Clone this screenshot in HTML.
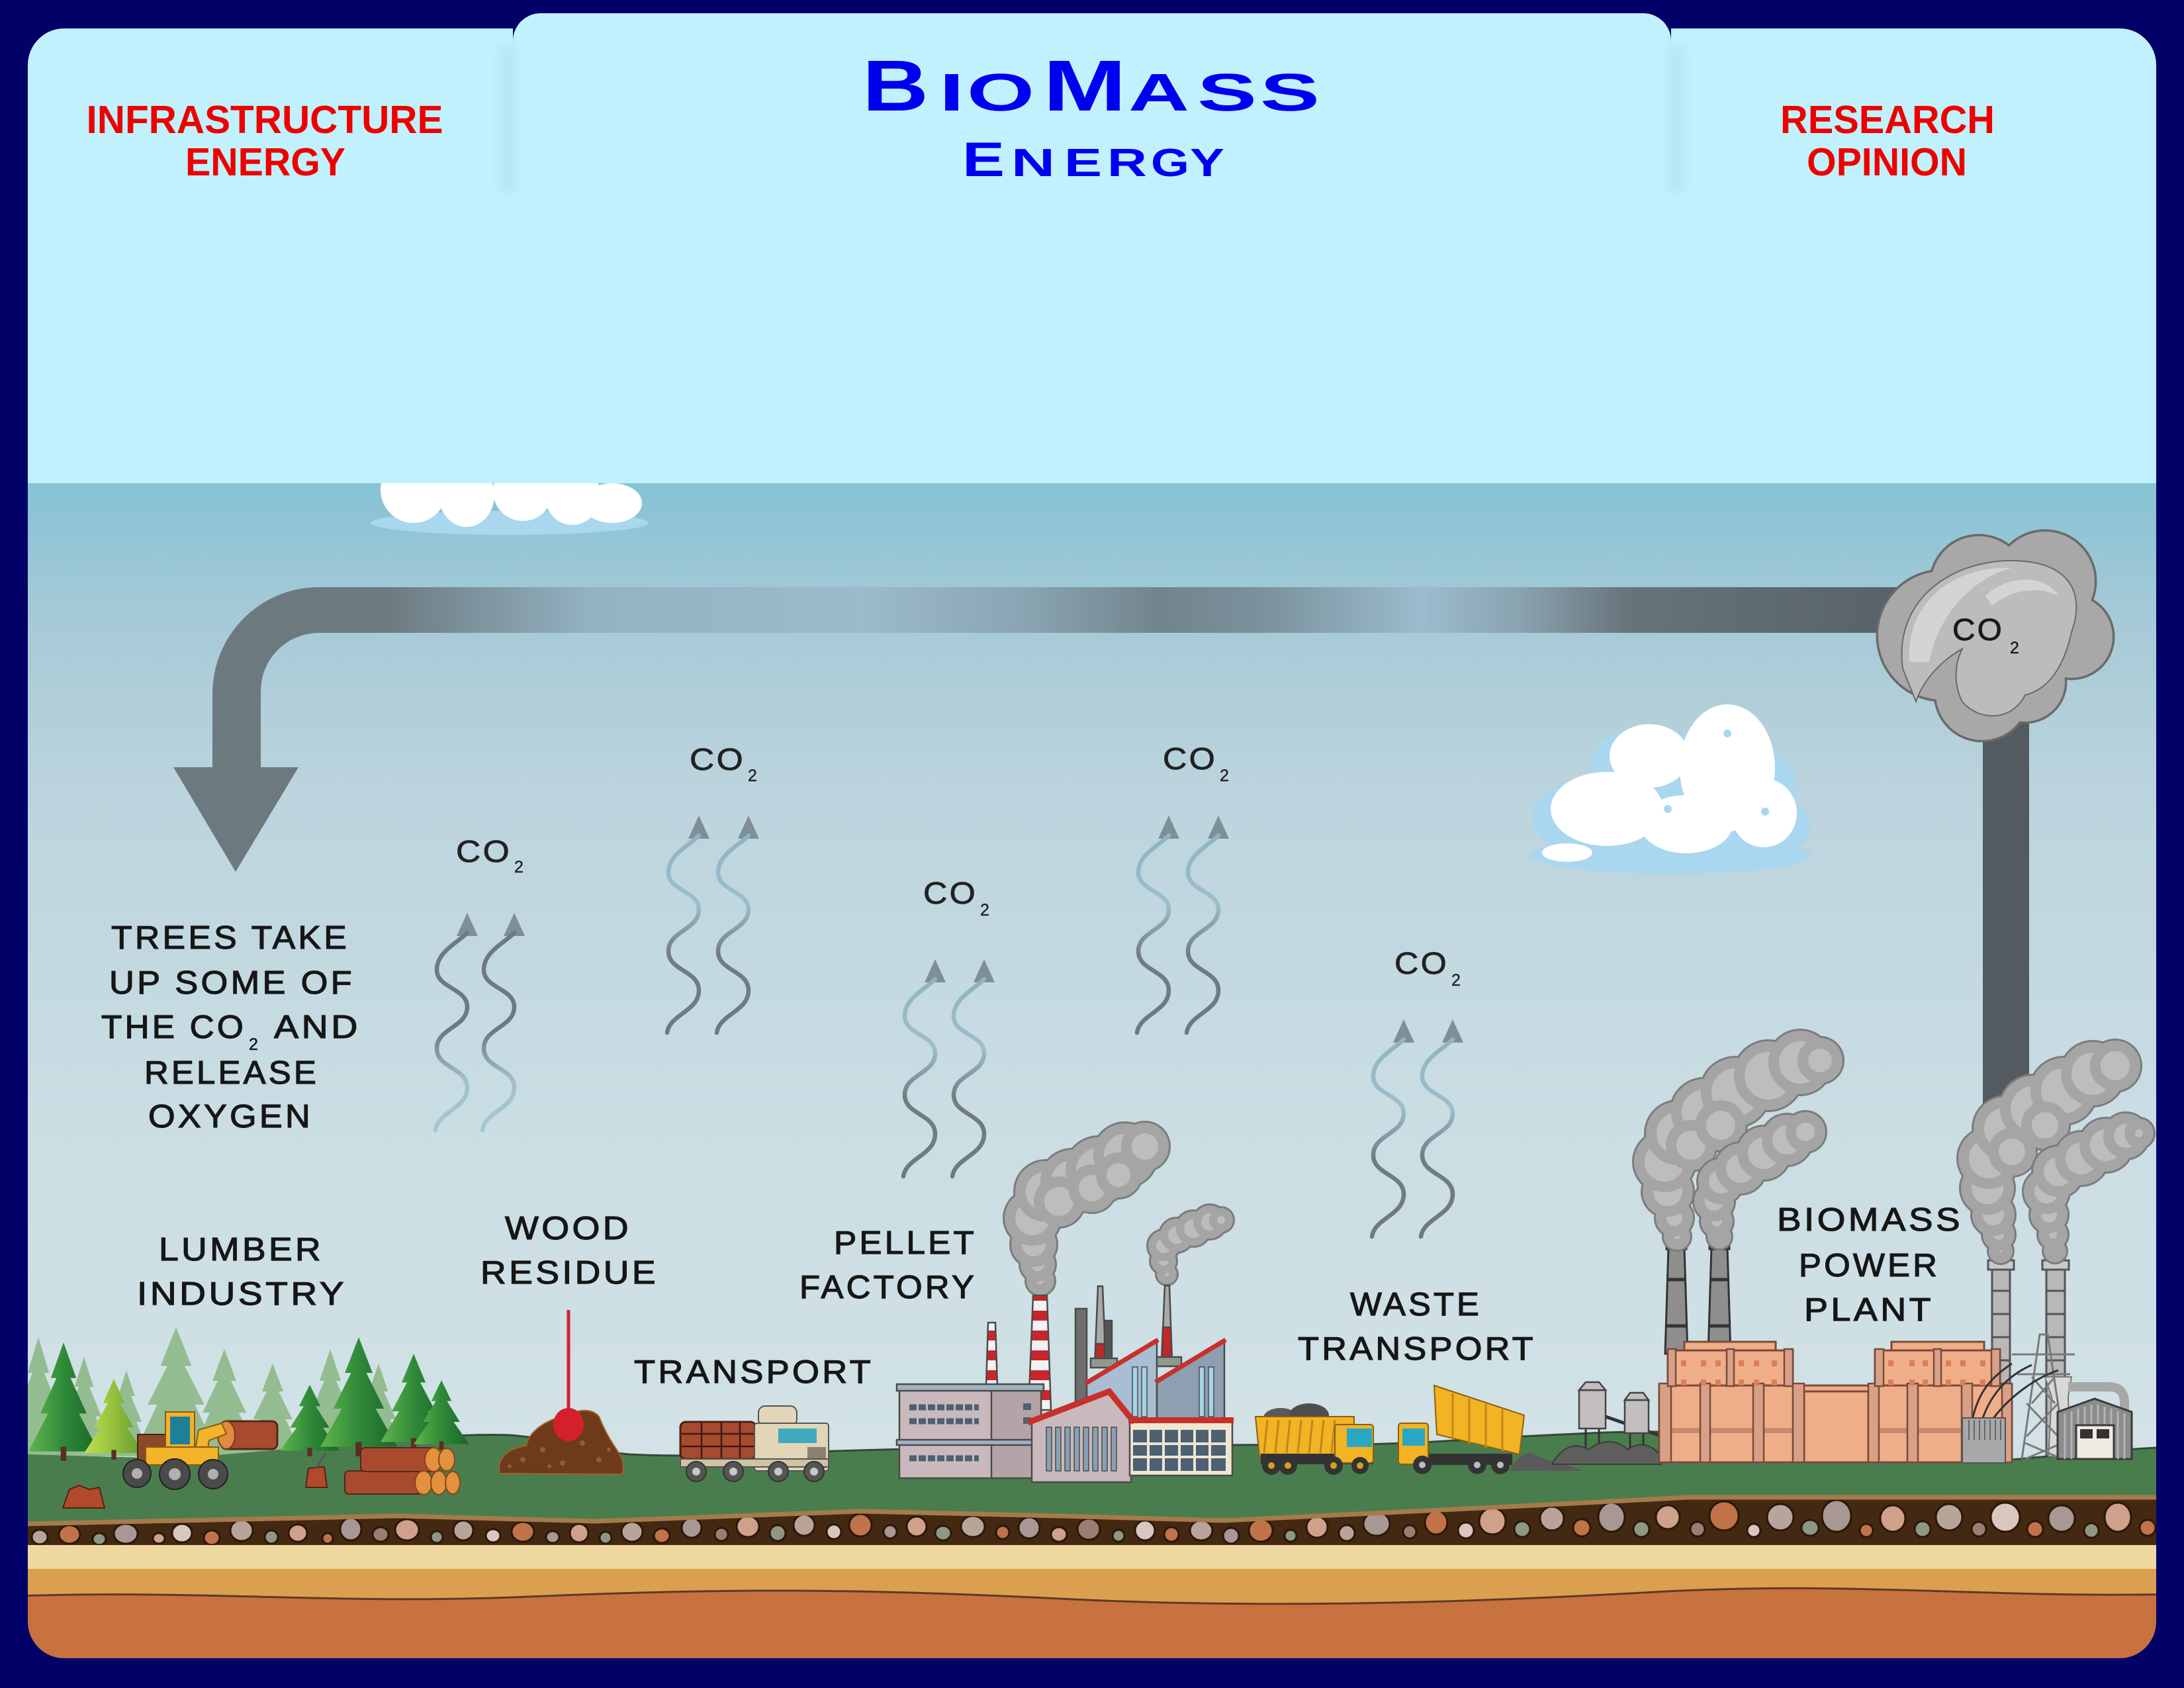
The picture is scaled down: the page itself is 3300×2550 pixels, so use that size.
<!DOCTYPE html>
<html><head><meta charset="utf-8">
<style>html,body{margin:0;padding:0;background:#020167;}svg{display:block}</style>
</head><body>
<svg width="3300" height="2550" viewBox="0 0 3300 2550" xmlns="http://www.w3.org/2000/svg">
<defs>
<clipPath id="panel"><path d="M42 2450 L42 98 A55 55 0 0 1 97 43 L775 43 L775 62 A42 42 0 0 1 817 20 L2483 20 A42 42 0 0 1 2525 62 L2525 43 L3203 43 A55 55 0 0 1 3258 98 L3258 2450 A55 55 0 0 1 3203 2505 L97 2505 A55 55 0 0 1 42 2450 Z"/></clipPath>
<linearGradient id="sky" x1="0" y1="730" x2="0" y2="2300" gradientUnits="userSpaceOnUse">
<stop offset="0" stop-color="#85c3d5"/><stop offset="0.12" stop-color="#a4c9d6"/><stop offset="0.3" stop-color="#bcd4dd"/><stop offset="0.6" stop-color="#c9dde3"/><stop offset="1" stop-color="#d4e3e7"/>
</linearGradient>
<linearGradient id="arr" x1="300" y1="0" x2="2900" y2="0" gradientUnits="userSpaceOnUse">
<stop offset="0" stop-color="#6c7a80"/><stop offset="0.108" stop-color="#6c7a80"/><stop offset="0.229" stop-color="#93b2c2"/><stop offset="0.385" stop-color="#9bbbcb"/><stop offset="0.481" stop-color="#8aa4b2"/><stop offset="0.558" stop-color="#72858e"/><stop offset="0.615" stop-color="#7a909b"/><stop offset="0.712" stop-color="#9bbccd"/><stop offset="0.769" stop-color="#8aa2b0"/><stop offset="0.831" stop-color="#67747b"/><stop offset="1" stop-color="#566068"/>
</linearGradient>
<linearGradient id="gd" x1="0" y1="0" x2="0" y2="1"><stop offset="0" stop-color="#6e7a80"/><stop offset="0.5" stop-color="#6e7a80"/><stop offset="0.75" stop-color="#9fc0cc"/><stop offset="1" stop-color="#a6c6d2"/></linearGradient>
<linearGradient id="gl" x1="0" y1="0" x2="0" y2="1"><stop offset="0" stop-color="#8fb3c2"/><stop offset="0.35" stop-color="#9cbfcc"/><stop offset="0.6" stop-color="#717d83"/><stop offset="1" stop-color="#6e7a80"/></linearGradient>
<linearGradient id="pine" x1="0" y1="0" x2="1" y2="0"><stop offset="0" stop-color="#62b54d"/><stop offset="0.5" stop-color="#2f8a38"/><stop offset="1" stop-color="#1b6528"/></linearGradient>
<linearGradient id="ypine" x1="0" y1="0" x2="1" y2="0"><stop offset="0" stop-color="#c4de52"/><stop offset="0.5" stop-color="#93c03c"/><stop offset="1" stop-color="#5f9a30"/></linearGradient>
<pattern id="stripes" patternUnits="userSpaceOnUse" width="40" height="30"><rect width="40" height="15" fill="#c8262a"/><rect y="15" width="40" height="15" fill="#f2f2f2"/></pattern>
<filter id="blur" x="-3" y="-1" width="7" height="3"><feGaussianBlur stdDeviation="10"/></filter>
<g id="tree"><polygon points="0,0 18,30 10,30 33,60 22,60 50,92 -50,92 -22,60 -33,60 -10,30 -18,30"/><rect x="-4" y="88" width="8" height="12" fill="#5a2f22"/></g>
<g id="btree"><polygon points="0,0 18,30 10,30 33,60 22,60 50,100 -50,100 -22,60 -33,60 -10,30 -18,30"/></g>
<g id="wv"><path d="M0,30 C-12,44 -46,58 -46,86 C-46,114 0,114 0,142 C0,173 -46,174 -46,205 C-46,235 0,234 0,264 C0,296 -44,300 -48,328" fill="none" stroke-width="6.5" stroke-linecap="round"/></g>
<polygon id="ah" points="0,0 16,35 -16,35"/>
<g id="sp1"><circle cx="1572" cy="1935" r="13"/><circle cx="1568" cy="1910" r="18"/><circle cx="1562" cy="1880" r="26"/><circle cx="1560" cy="1840" r="34"/><circle cx="1580" cy="1800" r="38"/><circle cx="1620" cy="1785" r="40"/><circle cx="1660" cy="1768" r="42"/><circle cx="1700" cy="1745" r="40"/><circle cx="1730" cy="1732" r="28"/><circle cx="1600" cy="1815" r="30"/><circle cx="1650" cy="1795" r="28"/><circle cx="1690" cy="1775" r="26"/></g>
<g id="sp2"><circle cx="1763" cy="1925" r="9"/><circle cx="1758" cy="1905" r="13"/><circle cx="1758" cy="1882" r="17"/><circle cx="1778" cy="1866" r="19"/><circle cx="1803" cy="1856" r="20"/><circle cx="1828" cy="1846" r="19"/><circle cx="1845" cy="1843" r="12"/></g>
<g id="sp3"><circle cx="2534" cy="1868" r="12"/><circle cx="2530" cy="1840" r="20"/><circle cx="2520" cy="1800" r="30"/><circle cx="2515" cy="1755" r="38"/><circle cx="2535" cy="1712" r="40"/><circle cx="2575" cy="1680" r="42"/><circle cx="2622" cy="1650" r="44"/><circle cx="2672" cy="1625" r="44"/><circle cx="2720" cy="1605" r="40"/><circle cx="2750" cy="1602" r="26"/><circle cx="2555" cy="1730" r="30"/><circle cx="2600" cy="1700" r="30"/></g>
<g id="sp4"><circle cx="2598" cy="1868" r="10"/><circle cx="2594" cy="1845" r="16"/><circle cx="2590" cy="1815" r="22"/><circle cx="2600" cy="1785" r="26"/><circle cx="2630" cy="1765" r="30"/><circle cx="2665" cy="1742" r="32"/><circle cx="2700" cy="1722" r="30"/><circle cx="2728" cy="1710" r="22"/></g>
<g id="sp5"><circle cx="3023" cy="1890" r="10"/><circle cx="3020" cy="1865" r="16"/><circle cx="3012" cy="1835" r="24"/><circle cx="3003" cy="1795" r="32"/><circle cx="3005" cy="1750" r="38"/><circle cx="3030" cy="1705" r="40"/><circle cx="3072" cy="1675" r="42"/><circle cx="3118" cy="1648" r="42"/><circle cx="3162" cy="1622" r="40"/><circle cx="3196" cy="1610" r="30"/><circle cx="3040" cy="1740" r="28"/><circle cx="3090" cy="1700" r="28"/></g>
<g id="sp6"><circle cx="3105" cy="1890" r="9"/><circle cx="3102" cy="1865" r="14"/><circle cx="3096" cy="1835" r="20"/><circle cx="3092" cy="1800" r="26"/><circle cx="3110" cy="1770" r="30"/><circle cx="3145" cy="1750" r="32"/><circle cx="3182" cy="1730" r="32"/><circle cx="3212" cy="1716" r="26"/><circle cx="3232" cy="1712" r="14"/></g>
<g id="cc"><circle cx="2935" cy="960" r="97"/><circle cx="2990" cy="882" r="72"/><circle cx="3090" cy="878" r="75"/><circle cx="3130" cy="962" r="62"/><circle cx="3060" cy="1030" r="60"/><circle cx="2995" cy="1048" r="70"/></g>
</defs>

<rect width="3300" height="2550" fill="#020167"/>

<g clip-path="url(#panel)">
<rect x="0" y="700" width="3300" height="1650" fill="url(#sky)"/>

<ellipse cx="770" cy="790" rx="210" ry="18" fill="#a9d7ee"/>
<g fill="#ffffff">
<ellipse cx="625" cy="740" rx="50" ry="50"/>
<ellipse cx="705" cy="748" rx="42" ry="48"/>
<ellipse cx="790" cy="742" rx="45" ry="45"/>
<ellipse cx="865" cy="748" rx="42" ry="45"/>
<ellipse cx="925" cy="760" rx="45" ry="30"/>
</g>

<rect x="0" y="0" width="3300" height="730" fill="#c1f1fd"/>
<rect x="760" y="70" width="14" height="220" fill="#000" opacity="0.09" filter="url(#blur)"/>
<rect x="2526" y="70" width="14" height="220" fill="#000" opacity="0.09" filter="url(#blur)"/>

<path d="M2960 887 L482 887 A161 161 0 0 0 321 1048 L321 1159 L262 1159 L356 1317 L451 1159 L394 1159 L394 1044 A88 88 0 0 1 482 956 L2960 956 Z" fill="url(#arr)"/>
<rect x="2996" y="1060" width="70" height="650" fill="#535b60"/>

<use href="#cc" fill="#a8a8a8" stroke="#6a6a6a" stroke-width="7"/>
<use href="#cc" fill="#a8a8a8"/>
<path d="M2875 1010 C2860 900 2960 838 3060 848 C3130 855 3150 900 3130 955 C3120 1000 3100 1040 3060 1050 C3040 1090 2990 1090 2965 1060 C2950 1030 2955 1000 2965 980 C2930 1000 2905 1030 2895 1060 Z" fill="#bcbcbc" stroke="#6a6a6a" stroke-width="2"/>
<path d="M2885 1000 C2880 910 2950 855 3040 858 C2990 870 2930 920 2915 1000 Z" fill="#d4d4d4"/>
<path d="M3000 900 C3030 870 3090 865 3110 900 C3080 885 3040 890 3010 915 Z" fill="#d4d4d4"/>

<g fill="#a9d7ef">
<ellipse cx="2525" cy="1292" rx="212" ry="28"/>
<ellipse cx="2415" cy="1235" rx="100" ry="62"/>
<ellipse cx="2595" cy="1195" rx="120" ry="95"/>
<ellipse cx="2475" cy="1155" rx="70" ry="55"/>
<ellipse cx="2680" cy="1250" rx="55" ry="45"/>
</g>
<g fill="#ffffff">
<ellipse cx="2428" cy="1222" rx="85" ry="56"/>
<ellipse cx="2492" cy="1142" rx="60" ry="48"/>
<ellipse cx="2610" cy="1160" rx="72" ry="96"/>
<ellipse cx="2665" cy="1228" rx="50" ry="52"/>
<ellipse cx="2548" cy="1245" rx="70" ry="44"/>
<ellipse cx="2368" cy="1288" rx="38" ry="14"/>
</g>
<g fill="#a9d7ef"><circle cx="2610" cy="1108" r="6"/><circle cx="2520" cy="1222" r="6"/><circle cx="2667" cy="1226" r="6"/><circle cx="2500" cy="1297" r="5"/></g>

<g fill="#7e8f97">
<use href="#ah" transform="translate(706,1379)"/><use href="#ah" transform="translate(777,1379)"/>
<use href="#ah" transform="translate(1056,1232)"/><use href="#ah" transform="translate(1131,1232)"/>
<use href="#ah" transform="translate(1413,1449)"/><use href="#ah" transform="translate(1487,1449)"/>
<use href="#ah" transform="translate(1766,1232)"/><use href="#ah" transform="translate(1841,1232)"/>
<use href="#ah" transform="translate(2121,1540)"/><use href="#ah" transform="translate(2195,1540)"/>
</g>
<use href="#wv" transform="translate(706,1379)" stroke="url(#gd)"/><use href="#wv" transform="translate(777,1379)" stroke="url(#gd)"/>
<use href="#wv" transform="translate(1056,1232)" stroke="url(#gl)"/><use href="#wv" transform="translate(1131,1232)" stroke="url(#gl)"/>
<use href="#wv" transform="translate(1413,1449)" stroke="url(#gl)"/><use href="#wv" transform="translate(1487,1449)" stroke="url(#gl)"/>
<use href="#wv" transform="translate(1766,1232)" stroke="url(#gl)"/><use href="#wv" transform="translate(1841,1232)" stroke="url(#gl)"/>
<use href="#wv" transform="translate(2121,1540)" stroke="url(#gl)"/><use href="#wv" transform="translate(2195,1540)" stroke="url(#gl)"/>

<g fill="#93bd91">
<use href="#btree" transform="translate(58,2020) scale(0.9,1.8)"/>
<use href="#btree" transform="translate(127,2050) scale(0.8,1.5)"/>
<use href="#btree" transform="translate(191,2070) scale(0.7,1.3)"/>
<use href="#btree" transform="translate(266,2005) scale(1.3,1.95)"/>
<use href="#btree" transform="translate(339,2038) scale(1.0,1.6)"/>
<use href="#btree" transform="translate(412,2060) scale(0.9,1.4)"/>
<use href="#btree" transform="translate(499,2038) scale(0.9,1.6)"/>
<use href="#btree" transform="translate(572,2060) scale(0.8,1.4)"/>
</g>

<g stroke="#333" stroke-width="3">
<polygon points="2521,1884 2545,1884 2550,2045 2516,2045" fill="#8e8e8e"/>
<polygon points="2586,1884 2610,1884 2615,2045 2581,2045" fill="#8e8e8e"/>
<rect x="2518" y="1878" width="30" height="9" fill="#777"/>
<rect x="2583" y="1878" width="30" height="9" fill="#777"/>
<line x1="2519" y1="1933" x2="2547" y2="1933" stroke-width="5"/><line x1="2584" y1="1933" x2="2612" y2="1933" stroke-width="5"/>
<line x1="2518" y1="2003" x2="2549" y2="2003" stroke-width="5"/><line x1="2583" y1="2003" x2="2614" y2="2003" stroke-width="5"/>
</g>
<g stroke="#555" stroke-width="3" fill="#b8b8b8">
<rect x="3010" y="1916" width="27" height="290"/>
<rect x="3092" y="1916" width="28" height="290"/>
<rect x="3004" y="1904" width="39" height="14" fill="#c9c9c9"/>
<rect x="3086" y="1904" width="40" height="14" fill="#c9c9c9"/>
<path d="M3010 1950 H3037 M3010 1985 H3037 M3010 2020 H3037 M3010 2055 H3037 M3010 2090 H3037 M3092 1950 H3120 M3092 1985 H3120 M3092 2020 H3120 M3092 2055 H3120 M3092 2090 H3120" fill="none"/>
</g>

<use href="#sp1" fill="#a5a5a5" stroke="#7c7c7c" stroke-width="22"/><use href="#sp1" fill="#bdbdbd" stroke="#a5a5a5" stroke-width="16"/>
<use href="#sp2" fill="#a5a5a5" stroke="#7c7c7c" stroke-width="18"/><use href="#sp2" fill="#bdbdbd" stroke="#a5a5a5" stroke-width="12"/>
<use href="#sp3" fill="#a5a5a5" stroke="#7c7c7c" stroke-width="22"/><use href="#sp3" fill="#bdbdbd" stroke="#a5a5a5" stroke-width="16"/>
<use href="#sp4" fill="#a5a5a5" stroke="#7c7c7c" stroke-width="22"/><use href="#sp4" fill="#bdbdbd" stroke="#a5a5a5" stroke-width="16"/>
<use href="#sp5" fill="#a5a5a5" stroke="#7c7c7c" stroke-width="22"/><use href="#sp5" fill="#bdbdbd" stroke="#a5a5a5" stroke-width="16"/>
<use href="#sp6" fill="#a5a5a5" stroke="#7c7c7c" stroke-width="22"/><use href="#sp6" fill="#bdbdbd" stroke="#a5a5a5" stroke-width="16"/>

<rect x="0" y="2250" width="3300" height="100" fill="#432812"/>
<g stroke="#2a180a" stroke-width="3">
<ellipse cx="60" cy="2322" rx="12" ry="11" fill="#b9a49c"/><ellipse cx="105" cy="2318" rx="16" ry="14" fill="#c27248"/><ellipse cx="150" cy="2325" rx="10" ry="9" fill="#8e9784"/><ellipse cx="190" cy="2317" rx="18" ry="15" fill="#a89792"/><ellipse cx="240" cy="2324" rx="9" ry="8" fill="#cfa18a"/><ellipse cx="275" cy="2316" rx="15" ry="14" fill="#d9c7bf"/><ellipse cx="320" cy="2323" rx="12" ry="11" fill="#c27248"/><ellipse cx="365" cy="2312" rx="17" ry="16" fill="#b9a49c"/><ellipse cx="410" cy="2322" rx="10" ry="10" fill="#8e9784"/><ellipse cx="450" cy="2316" rx="14" ry="13" fill="#cfa18a"/><ellipse cx="495" cy="2324" rx="8" ry="8" fill="#c27248"/><ellipse cx="530" cy="2310" rx="16" ry="17" fill="#a89792"/><ellipse cx="575" cy="2318" rx="12" ry="11" fill="#9a7e74"/><ellipse cx="615" cy="2311" rx="18" ry="16" fill="#cfa18a"/><ellipse cx="660" cy="2322" rx="9" ry="9" fill="#8e9784"/><ellipse cx="700" cy="2312" rx="15" ry="15" fill="#b9a49c"/><ellipse cx="745" cy="2320" rx="11" ry="10" fill="#d9c7bf"/><ellipse cx="790" cy="2314" rx="17" ry="15" fill="#c27248"/><ellipse cx="835" cy="2322" rx="10" ry="9" fill="#a89792"/><ellipse cx="875" cy="2316" rx="14" ry="14" fill="#cfa18a"/><ellipse cx="915" cy="2323" rx="9" ry="9" fill="#8e9784"/><ellipse cx="955" cy="2314" rx="16" ry="15" fill="#b9a49c"/><ellipse cx="1000" cy="2320" rx="12" ry="11" fill="#c27248"/><ellipse cx="1045" cy="2308" rx="15" ry="15" fill="#a89792"/><ellipse cx="1090" cy="2318" rx="10" ry="10" fill="#9a7e74"/><ellipse cx="1130" cy="2306" rx="17" ry="16" fill="#cfa18a"/><ellipse cx="1175" cy="2316" rx="12" ry="12" fill="#8e9784"/><ellipse cx="1215" cy="2304" rx="16" ry="16" fill="#b9a49c"/><ellipse cx="1260" cy="2314" rx="11" ry="11" fill="#d9c7bf"/><ellipse cx="1300" cy="2304" rx="17" ry="17" fill="#c27248"/><ellipse cx="1345" cy="2314" rx="10" ry="10" fill="#a89792"/><ellipse cx="1385" cy="2306" rx="15" ry="15" fill="#cfa18a"/><ellipse cx="1425" cy="2316" rx="12" ry="11" fill="#8e9784"/><ellipse cx="1470" cy="2306" rx="18" ry="16" fill="#b9a49c"/><ellipse cx="1515" cy="2315" rx="10" ry="10" fill="#c27248"/><ellipse cx="1555" cy="2308" rx="16" ry="16" fill="#a89792"/><ellipse cx="1600" cy="2318" rx="12" ry="11" fill="#cfa18a"/><ellipse cx="1645" cy="2310" rx="17" ry="16" fill="#9a7e74"/><ellipse cx="1690" cy="2320" rx="9" ry="9" fill="#8e9784"/><ellipse cx="1730" cy="2312" rx="15" ry="15" fill="#d9c7bf"/><ellipse cx="1770" cy="2318" rx="11" ry="11" fill="#c27248"/><ellipse cx="1815" cy="2312" rx="17" ry="15" fill="#b9a49c"/><ellipse cx="1860" cy="2320" rx="12" ry="12" fill="#a89792"/><ellipse cx="1905" cy="2312" rx="18" ry="17" fill="#c27248"/><ellipse cx="1950" cy="2320" rx="9" ry="9" fill="#8e9784"/><ellipse cx="1990" cy="2307" rx="16" ry="16" fill="#cfa18a"/><ellipse cx="2035" cy="2316" rx="12" ry="12" fill="#b9a49c"/><ellipse cx="2080" cy="2302" rx="20" ry="18" fill="#a89792"/><ellipse cx="2130" cy="2314" rx="10" ry="10" fill="#9a7e74"/><ellipse cx="2170" cy="2300" rx="17" ry="18" fill="#c27248"/><ellipse cx="2215" cy="2312" rx="12" ry="12" fill="#d9c7bf"/><ellipse cx="2255" cy="2298" rx="20" ry="20" fill="#cfa18a"/><ellipse cx="2300" cy="2310" rx="12" ry="12" fill="#8e9784"/><ellipse cx="2345" cy="2294" rx="18" ry="18" fill="#b9a49c"/><ellipse cx="2390" cy="2308" rx="13" ry="13" fill="#c27248"/><ellipse cx="2435" cy="2292" rx="20" ry="22" fill="#a89792"/><ellipse cx="2480" cy="2310" rx="12" ry="12" fill="#8e9784"/><ellipse cx="2520" cy="2292" rx="18" ry="18" fill="#cfa18a"/><ellipse cx="2565" cy="2310" rx="11" ry="11" fill="#9a7e74"/><ellipse cx="2605" cy="2290" rx="22" ry="22" fill="#c27248"/><ellipse cx="2650" cy="2312" rx="10" ry="10" fill="#d9c7bf"/><ellipse cx="2690" cy="2292" rx="20" ry="20" fill="#b9a49c"/><ellipse cx="2735" cy="2308" rx="13" ry="12" fill="#8e9784"/><ellipse cx="2775" cy="2290" rx="22" ry="24" fill="#a89792"/><ellipse cx="2820" cy="2312" rx="10" ry="10" fill="#c27248"/><ellipse cx="2860" cy="2294" rx="19" ry="20" fill="#cfa18a"/><ellipse cx="2905" cy="2310" rx="12" ry="12" fill="#8e9784"/><ellipse cx="2945" cy="2292" rx="20" ry="20" fill="#b9a49c"/><ellipse cx="2990" cy="2310" rx="11" ry="11" fill="#9a7e74"/><ellipse cx="3030" cy="2292" rx="22" ry="22" fill="#d9c7bf"/><ellipse cx="3075" cy="2310" rx="12" ry="12" fill="#c27248"/><ellipse cx="3115" cy="2294" rx="20" ry="20" fill="#a89792"/><ellipse cx="3160" cy="2312" rx="11" ry="11" fill="#8e9784"/><ellipse cx="3200" cy="2292" rx="20" ry="22" fill="#cfa18a"/><ellipse cx="3245" cy="2308" rx="12" ry="12" fill="#c27248"/>
</g>
<rect x="0" y="2334" width="3300" height="40" fill="#efd8a0"/>
<rect x="0" y="2370" width="3300" height="70" fill="#daa04f"/>
<path d="M0 2412 C300 2400 500 2425 800 2412 S1300 2400 1600 2415 S2200 2422 2500 2405 S3000 2415 3300 2408 L3300 2560 L0 2560 Z" fill="#c8723f" stroke="#5e3a28" stroke-width="3"/>
<path d="M0 2200 L42 2197 C150 2200 250 2205 330 2198 C420 2190 480 2185 560 2178 C650 2170 720 2166 770 2168 C830 2172 880 2190 950 2197 C1050 2202 1150 2196 1260 2192 C1400 2188 1500 2186 1600 2186 C1750 2184 1850 2182 1950 2183 C2100 2184 2200 2176 2300 2170 C2400 2165 2450 2162 2506 2163 C2700 2170 2900 2200 3040 2205 C3150 2195 3220 2188 3300 2185 L3300 2262 L2550 2262 L2300 2275 L1850 2297 L1600 2290 L1300 2283 L900 2298 L600 2290 L42 2302 L0 2303 Z" fill="#4a7d4d"/>
<path d="M560 2178 C650 2170 720 2166 770 2168 C830 2172 880 2190 950 2197 C1050 2202 1150 2196 1260 2192 C1400 2188 1500 2186 1600 2186 C1750 2184 1850 2182 1950 2183 C2100 2184 2200 2176 2300 2170 C2400 2165 2450 2162 2506 2163 M3040 2205 C3150 2195 3220 2188 3300 2185" fill="none" stroke="#37463a" stroke-width="3"/>
<polyline points="0,2303 42,2302 600,2290 900,2298 1300,2283 1600,2290 1850,2297 2300,2275 2550,2262 3300,2262" fill="none" stroke="#a57a4c" stroke-width="7"/>

<g fill="url(#pine)">
<use href="#tree" transform="translate(96,2028) scale(1.06,1.79)"/>
<use href="#tree" transform="translate(468,2092) scale(0.9,1.08)"/>
<use href="#tree" transform="translate(542,2020) scale(1.16,1.8)"/>
<use href="#tree" transform="translate(625,2045) scale(1.0,1.45)"/>
<use href="#tree" transform="translate(667,2085) scale(0.84,1.05)"/>
</g>
<use href="#tree" fill="url(#ypine)" transform="translate(172,2083) scale(0.9,1.22)"/>

<polygon points="95,2278 105,2250 120,2244 135,2250 150,2247 158,2278" fill="#b04a2a" stroke="#5a2010" stroke-width="2"/>
<polygon points="462,2247 466,2218 490,2216 494,2247" fill="#b04a2a" stroke="#5a2010" stroke-width="2"/>
<line x1="478" y1="2218" x2="492" y2="2195" stroke="#555" stroke-width="3"/>

<rect x="334" y="2147" width="85" height="42" rx="8" fill="#a84a2e" stroke="#5a2418" stroke-width="3"/>
<ellipse cx="342" cy="2168" rx="13" ry="21" fill="#e08a40" stroke="#7a3a1a" stroke-width="2"/>
<polygon points="292,2208 300,2160 335,2150 342,2166 316,2176 310,2212" fill="#f3b32a" stroke="#8a5a10" stroke-width="2"/>
<rect x="208" y="2167" width="46" height="45" fill="#8a4a2a" stroke="#4a2010" stroke-width="2"/>
<rect x="250" y="2133" width="44" height="60" fill="#f3b32a" stroke="#8a5a10" stroke-width="2"/>
<rect x="257" y="2140" width="30" height="42" fill="#1e7f9a"/>
<rect x="220" y="2186" width="110" height="27" fill="#f3b32a" stroke="#8a5a10" stroke-width="2"/>
<g fill="#4a4a4a" stroke="#222" stroke-width="2"><circle cx="207" cy="2226" r="21"/><circle cx="264" cy="2227" r="23"/><circle cx="322" cy="2227" r="22"/></g>
<g fill="#b0b0b0"><circle cx="207" cy="2226" r="8"/><circle cx="264" cy="2227" r="9"/><circle cx="322" cy="2227" r="8"/></g>

<g fill="#a84a2e" stroke="#5a2418" stroke-width="2">
<rect x="521" y="2222" width="125" height="35" rx="6"/>
<rect x="545" y="2187" width="112" height="36" rx="6"/>
</g>
<g fill="#e3913f" stroke="#8a4418" stroke-width="2">
<ellipse cx="655" cy="2205" rx="13" ry="18"/><ellipse cx="675" cy="2205" rx="12" ry="17"/>
<ellipse cx="640" cy="2240" rx="13" ry="18"/><ellipse cx="663" cy="2240" rx="12" ry="18"/><ellipse cx="684" cy="2240" rx="11" ry="17"/>
</g>

<path d="M755 2226 C750 2200 770 2188 795 2184 C800 2160 830 2142 860 2138 C875 2128 895 2128 905 2140 C915 2165 925 2180 935 2195 C945 2210 942 2226 938 2227 Z" fill="#6e3a1c" stroke="#a0602c" stroke-width="2"/>
<g fill="#9a5a2e"><circle cx="790" cy="2205" r="4"/><circle cx="820" cy="2190" r="4"/><circle cx="850" cy="2210" r="4"/><circle cx="880" cy="2180" r="4"/><circle cx="905" cy="2205" r="4"/><circle cx="870" cy="2160" r="3"/><circle cx="830" cy="2215" r="3"/><circle cx="920" cy="2190" r="3"/><circle cx="770" cy="2215" r="3"/></g>
<line x1="859" y1="1979" x2="859" y2="2140" stroke="#d4202a" stroke-width="5"/>
<ellipse cx="859" cy="2152" rx="23" ry="25" fill="#d4202a"/>

<rect x="1028" y="2148" width="114" height="56" rx="8" fill="#a84a2e" stroke="#4a2010" stroke-width="3"/>
<path d="M1030 2166 H1140 M1030 2185 H1140 M1060 2148 V2204 M1090 2148 V2204 M1118 2148 V2204" stroke="#3a1a10" stroke-width="2.5" fill="none"/>
<rect x="1146" y="2124" width="58" height="30" rx="10" fill="#e2d5b8" stroke="#555" stroke-width="2"/>
<rect x="1140" y="2150" width="112" height="72" rx="4" fill="#e2d5b8" stroke="#555" stroke-width="2"/>
<rect x="1176" y="2158" width="58" height="22" fill="#3fa9c0"/>
<rect x="1220" y="2186" width="28" height="32" fill="#8c8170"/>
<rect x="1028" y="2204" width="224" height="12" fill="#d0c2a4" stroke="#555" stroke-width="2"/>
<g fill="#555" stroke="#333" stroke-width="2"><circle cx="1052" cy="2223" r="15"/><circle cx="1108" cy="2223" r="15"/><circle cx="1176" cy="2223" r="15"/><circle cx="1230" cy="2223" r="15"/></g>
<g fill="#c8c8c8"><circle cx="1052" cy="2223" r="6"/><circle cx="1108" cy="2223" r="6"/><circle cx="1176" cy="2223" r="6"/><circle cx="1230" cy="2223" r="6"/></g>

<g stroke="#4a4a4a" stroke-width="2.5">
<polygon points="1493,1998 1504,1998 1507,2095 1490,2095" fill="url(#stripes)"/>
<polygon points="1561,1957 1582,1957 1588,2130 1554,2130" fill="url(#stripes)"/>
<rect x="1625" y="1977" width="17" height="145" fill="#6e6e6e"/>
<polygon points="1659,1943 1666,1943 1671,2063 1654,2063" fill="#a9a9a9"/>
<polygon points="1656,2030 1669,2030 1671,2063 1654,2063" fill="#c0282a"/>
<rect x="1669" y="1995" width="11" height="70" fill="#555"/>
<polygon points="1760,1942 1767,1942 1771,2059 1755,2059" fill="#a9a9a9"/>
<polygon points="1757,2005 1769,2005 1771,2059 1755,2059" fill="#c0282a"/>
<rect x="1648" y="2052" width="40" height="14" fill="#8f9a8f"/>
<rect x="1745" y="2050" width="40" height="14" fill="#8f9a8f"/>
<polygon points="1642,2090 1748,2026 1748,2145 1642,2145" fill="#a9bed2"/>
<polygon points="1748,2086 1850,2026 1850,2145 1748,2145" fill="#8d9fb0"/>
<rect x="1359" y="2099" width="214" height="134" fill="#c9b9bd"/>
<rect x="1498" y="2099" width="75" height="134" fill="#b4a4a8"/>
<rect x="1355" y="2091" width="222" height="10" fill="#9fb3c4"/>
<rect x="1355" y="2175" width="222" height="8" fill="#9fb3c4"/>
<polygon points="1559,2145 1676,2104 1709,2145 1709,2239 1559,2239" fill="#c9b9bd"/>
<rect x="1707" y="2147" width="155" height="82" fill="#efe6d2"/>
</g>
<line x1="1640" y1="2090" x2="1750" y2="2024" stroke="#c8302a" stroke-width="7"/>
<line x1="1746" y1="2088" x2="1852" y2="2024" stroke="#c8302a" stroke-width="7"/>
<g fill="#a5d4e6" stroke="#4a4a4a" stroke-width="1.5"><rect x="1711" y="2065" width="8" height="75"/><rect x="1725" y="2065" width="8" height="75"/><rect x="1812" y="2065" width="8" height="75"/><rect x="1826" y="2065" width="8" height="75"/></g>
<g stroke="#4c6172" stroke-width="9" stroke-dasharray="11 3"><line x1="1374" y1="2126" x2="1479" y2="2126"/><line x1="1374" y1="2147" x2="1479" y2="2147"/><line x1="1374" y1="2203" x2="1479" y2="2203"/></g>
<rect x="1546" y="2120" width="12" height="10" fill="#4c6172"/><rect x="1546" y="2141" width="12" height="10" fill="#4c6172"/>
<polyline points="1553,2149 1676,2102 1714,2149" fill="none" stroke="#c8302a" stroke-width="9"/>
<g fill="#8aa0b2" stroke="#4a4a4a" stroke-width="1.5"><rect x="1581" y="2156" width="8" height="66"/><rect x="1595" y="2156" width="8" height="66"/><rect x="1609" y="2156" width="8" height="66"/><rect x="1623" y="2156" width="8" height="66"/><rect x="1637" y="2156" width="8" height="66"/><rect x="1651" y="2156" width="8" height="66"/><rect x="1665" y="2156" width="8" height="66"/><rect x="1679" y="2156" width="8" height="66"/></g>
<rect x="1705" y="2141" width="159" height="9" fill="#c8302a"/>
<rect x="1712" y="2160" width="140" height="62" fill="#4c6172"/>
<path d="M1735 2160 V2222 M1758 2160 V2222 M1782 2160 V2222 M1805 2160 V2222 M1828 2160 V2222 M1712 2181 H1852 M1712 2201 H1852" stroke="#efe6d2" stroke-width="4"/>

<ellipse cx="1935" cy="2142" rx="26" ry="15" fill="#5a5a5a"/><ellipse cx="1978" cy="2138" rx="30" ry="18" fill="#4e4e4e"/>
<polygon points="1897,2140 2046,2140 2046,2200 1903,2200" fill="#f2b324" stroke="#8a6010" stroke-width="2"/>
<path d="M1915 2145 L1910 2195 M1932 2145 L1927 2195 M1949 2145 L1944 2195 M1966 2145 L1961 2195 M1983 2145 L1978 2195 M2000 2145 L1995 2195 M2017 2145 L2012 2195" stroke="#c08818" stroke-width="3"/>
<rect x="1905" y="2196" width="170" height="16" fill="#333"/>
<rect x="2017" y="2152" width="58" height="58" rx="4" fill="#f2b324" stroke="#8a6010" stroke-width="2"/>
<rect x="2035" y="2158" width="38" height="28" fill="#2aa7c2"/>
<g fill="#333"><circle cx="1921" cy="2214" r="14"/><circle cx="1946" cy="2214" r="14"/><circle cx="2015" cy="2214" r="14"/><circle cx="2055" cy="2214" r="13"/></g>
<g fill="#d4a020"><circle cx="1921" cy="2214" r="5"/><circle cx="1946" cy="2214" r="5"/><circle cx="2015" cy="2214" r="5"/><circle cx="2055" cy="2214" r="5"/></g>

<path d="M2280 2222 C2295 2200 2305 2190 2320 2198 C2345 2210 2370 2212 2392 2222 Z" fill="#5a5a5a"/>
<rect x="2150" y="2196" width="135" height="17" fill="#333"/>
<polygon points="2167,2093 2303,2138 2296,2197 2171,2167" fill="#f2b324" stroke="#8a6010" stroke-width="2"/>
<path d="M2195 2105 L2195 2175 M2220 2113 L2220 2181 M2245 2121 L2245 2187 M2270 2129 L2270 2192" stroke="#c08818" stroke-width="3"/>
<rect x="2113" y="2150" width="45" height="62" rx="4" fill="#f2b324" stroke="#8a6010" stroke-width="2"/>
<rect x="2119" y="2158" width="34" height="26" fill="#2aa7c2"/>
<g fill="#333"><circle cx="2149" cy="2213" r="14"/><circle cx="2232" cy="2213" r="14"/><circle cx="2267" cy="2213" r="14"/></g>
<g fill="#bbb"><circle cx="2149" cy="2213" r="5"/><circle cx="2232" cy="2213" r="5"/><circle cx="2267" cy="2213" r="5"/></g>

<g stroke="#333" stroke-width="3">
<line x1="2396" y1="2157" x2="2396" y2="2197"/><line x1="2416" y1="2157" x2="2416" y2="2197"/>
<line x1="2463" y1="2163" x2="2463" y2="2197"/><line x1="2483" y1="2163" x2="2483" y2="2197"/>
<line x1="2426" y1="2140" x2="2506" y2="2168" stroke-width="5"/>
</g>
<g fill="#c4bfbf" stroke="#444" stroke-width="2.5">
<rect x="2386" y="2100" width="40" height="58"/><polygon points="2386,2100 2396,2088 2416,2088 2426,2100"/>
<rect x="2455" y="2115" width="36" height="50"/><polygon points="2455,2115 2463,2104 2483,2104 2491,2115"/>
</g>
<g fill="#5e5e5e" stroke="#3a3a3a" stroke-width="2">
<path d="M2345 2212 C2360 2185 2380 2178 2400 2190 C2420 2175 2440 2172 2460 2190 C2475 2178 2495 2180 2510 2200 L2510 2212 Z"/>
</g>

<g stroke="#7a4a3a" stroke-width="3">
<rect x="2545" y="2027" width="138" height="15" fill="#f0ae88"/>
<rect x="2858" y="2027" width="140" height="15" fill="#f0ae88"/>
<rect x="2520" y="2040" width="189" height="55" fill="#f0ae88"/>
<rect x="2833" y="2040" width="189" height="55" fill="#f0ae88"/>
<rect x="2507" y="2093" width="533" height="116" fill="#f0ae88"/>
<rect x="2726" y="2102" width="97" height="107" fill="#f0ae88"/>
<line x1="2507" y1="2161" x2="2726" y2="2161" stroke-width="8" stroke="#c98a70"/>
<line x1="2823" y1="2161" x2="3040" y2="2161" stroke-width="8" stroke="#c98a70"/>
</g>
<g fill="#d9a088" stroke="#7a4a3a" stroke-width="2.5">
<rect x="2507" y="2090" width="18" height="119"/><rect x="2569" y="2090" width="15" height="119"/><rect x="2649" y="2090" width="16" height="119"/><rect x="2709" y="2090" width="17" height="119"/><rect x="2823" y="2090" width="16" height="119"/><rect x="2882" y="2090" width="16" height="119"/><rect x="2964" y="2090" width="16" height="119"/><rect x="3025" y="2090" width="15" height="119"/>
<rect x="2520" y="2038" width="12" height="56"/><rect x="2609" y="2038" width="11" height="56"/><rect x="2696" y="2038" width="13" height="56"/><rect x="2833" y="2038" width="13" height="56"/><rect x="2922" y="2038" width="11" height="56"/><rect x="3009" y="2038" width="13" height="56"/>
</g>
<g fill="#d77f5e">
<rect x="2540" y="2055" width="8" height="9"/><rect x="2570" y="2055" width="8" height="9"/><rect x="2592" y="2055" width="8" height="9"/><rect x="2627" y="2055" width="8" height="9"/><rect x="2650" y="2055" width="8" height="9"/><rect x="2677" y="2055" width="8" height="9"/>
<rect x="2540" y="2084" width="8" height="9"/><rect x="2570" y="2084" width="8" height="9"/><rect x="2592" y="2084" width="8" height="9"/><rect x="2627" y="2084" width="8" height="9"/><rect x="2650" y="2084" width="8" height="9"/><rect x="2677" y="2084" width="8" height="9"/>
<rect x="2853" y="2055" width="8" height="9"/><rect x="2885" y="2055" width="8" height="9"/><rect x="2905" y="2055" width="8" height="9"/><rect x="2940" y="2055" width="8" height="9"/><rect x="2962" y="2055" width="8" height="9"/><rect x="2992" y="2055" width="8" height="9"/>
<rect x="2853" y="2084" width="8" height="9"/><rect x="2885" y="2084" width="8" height="9"/><rect x="2905" y="2084" width="8" height="9"/><rect x="2940" y="2084" width="8" height="9"/><rect x="2962" y="2084" width="8" height="9"/><rect x="2992" y="2084" width="8" height="9"/>
</g>
<path d="M3095 2200 L3100 2110 L3090 2080 L3130 2080 L3125 2110 L3128 2200 Z" fill="#d8d8d8" stroke="#777" stroke-width="2"/>
<path d="M3125 2095 L3185 2095 C3205 2095 3210 2105 3210 2120 L3210 2130" fill="none" stroke="#a8a8a8" stroke-width="14"/>
<g stroke="#7a7a7a" stroke-width="3" fill="none">
<path d="M3055 2204 L3082 2016 L3094 2016 L3122 2204 M3040 2046 H3135 M3048 2076 H3128 M3062 2120 L3110 2170 M3110 2120 L3062 2170 M3070 2080 L3105 2120 M3105 2080 L3070 2120 M3060 2180 L3116 2204 M3116 2180 L3060 2204"/>
</g>
<path d="M2980 2145 C2990 2100 3010 2080 3040 2060 M2995 2145 C3010 2100 3040 2075 3070 2062 M3010 2145 C3040 2105 3080 2080 3110 2070" fill="none" stroke="#333" stroke-width="3"/>
<rect x="2965" y="2142" width="65" height="68" fill="#a8a8a8" stroke="#555" stroke-width="2"/>
<path d="M2975 2145 V2175 M2983 2145 V2175 M2991 2145 V2175 M2999 2145 V2175 M3007 2145 V2175 M3015 2145 V2175 M3023 2145 V2175" stroke="#666" stroke-width="2"/>
<polygon points="3109,2204 3109,2133 3165,2113 3221,2133 3221,2204" fill="#8c8c8c" stroke="#3a3a3a" stroke-width="3"/>
<path d="M3120 2135 V2204 M3130 2132 V2204 M3140 2128 V2204 M3150 2125 V2204 M3160 2122 V2204 M3170 2122 V2204 M3180 2125 V2204 M3190 2128 V2204 M3200 2132 V2204 M3210 2135 V2204" stroke="#b4b4b4" stroke-width="3"/>
<rect x="3137" y="2153" width="57" height="51" fill="#efeadf" stroke="#3a3a3a" stroke-width="3"/>
<rect x="3143" y="2159" width="19" height="14" fill="#333"/><rect x="3168" y="2159" width="19" height="14" fill="#333"/>
</g>

<g font-family="'Liberation Sans', Arial, sans-serif" font-weight="bold" fill="#ee0000" font-size="59">
<text x="400" y="201" text-anchor="middle" textLength="539" lengthAdjust="spacingAndGlyphs">INFRASTRUCTURE</text>
<text x="401" y="265" text-anchor="middle" textLength="242" lengthAdjust="spacingAndGlyphs">ENERGY</text>
<text x="2852" y="201" text-anchor="middle" textLength="324" lengthAdjust="spacingAndGlyphs">RESEARCH</text>
<text x="2851" y="265" text-anchor="middle" textLength="242" lengthAdjust="spacingAndGlyphs">OPINION</text>
</g>
<g font-family="'Liberation Sans', Arial, sans-serif" font-weight="bold" fill="#0000f0">
<text x="1303" y="167" font-size="109" textLength="100" lengthAdjust="spacingAndGlyphs">B</text>
<text x="1419" y="167" font-size="80" textLength="38" lengthAdjust="spacingAndGlyphs">I</text>
<text x="1461" y="167" font-size="80" textLength="102" lengthAdjust="spacingAndGlyphs">O</text>
<text x="1576" y="167" font-size="109" textLength="126" lengthAdjust="spacingAndGlyphs">M</text>
<text x="1705" y="167" font-size="80" textLength="92" lengthAdjust="spacingAndGlyphs">A</text>
<text x="1809" y="167" font-size="80" textLength="90" lengthAdjust="spacingAndGlyphs">S</text>
<text x="1904" y="167" font-size="80" textLength="90" lengthAdjust="spacingAndGlyphs">S</text>
<text x="1454" y="266" font-size="73" textLength="64" lengthAdjust="spacingAndGlyphs">E</text>
<text x="1528" y="266" font-size="59" textLength="66" lengthAdjust="spacingAndGlyphs">N</text>
<text x="1608" y="266" font-size="59" textLength="57" lengthAdjust="spacingAndGlyphs">E</text>
<text x="1673" y="266" font-size="59" textLength="60" lengthAdjust="spacingAndGlyphs">R</text>
<text x="1739" y="266" font-size="59" textLength="58" lengthAdjust="spacingAndGlyphs">G</text>
<text x="1798" y="266" font-size="59" textLength="52" lengthAdjust="spacingAndGlyphs">Y</text>
</g>

<g font-family="'Liberation Sans', Arial, sans-serif" fill="#161616" stroke="#161616" stroke-width="1.2" font-size="49" letter-spacing="4">
<text x="168" y="1433" textLength="360" lengthAdjust="spacingAndGlyphs">TREES TAKE</text>
<text x="165" y="1501" textLength="371" lengthAdjust="spacingAndGlyphs">UP SOME OF</text>
<text x="153" y="1568" textLength="219" lengthAdjust="spacingAndGlyphs">THE CO</text>
<text x="376" y="1586" font-size="25" letter-spacing="0" stroke-width="0.5">2</text>
<text x="414" y="1568" textLength="131" lengthAdjust="spacingAndGlyphs">AND</text>
<text x="218" y="1637" textLength="264" lengthAdjust="spacingAndGlyphs">RELEASE</text>
<text x="224" y="1703" textLength="249" lengthAdjust="spacingAndGlyphs">OXYGEN</text>
<text x="240" y="1904" textLength="249" lengthAdjust="spacingAndGlyphs">LUMBER</text>
<text x="207" y="1971" textLength="317" lengthAdjust="spacingAndGlyphs">INDUSTRY</text>
<text x="763" y="1872" textLength="191" lengthAdjust="spacingAndGlyphs">WOOD</text>
<text x="726" y="1939" textLength="269" lengthAdjust="spacingAndGlyphs">RESIDUE</text>
<text x="958" y="2089" textLength="362" lengthAdjust="spacingAndGlyphs">TRANSPORT</text>
<text x="1260" y="1894" textLength="216" lengthAdjust="spacingAndGlyphs">PELLET</text>
<text x="1208" y="1961" textLength="268" lengthAdjust="spacingAndGlyphs">FACTORY</text>
<text x="2040" y="1987" textLength="199" lengthAdjust="spacingAndGlyphs">WASTE</text>
<text x="1961" y="2054" textLength="360" lengthAdjust="spacingAndGlyphs">TRANSPORT</text>
<text x="2685" y="1859" textLength="281" lengthAdjust="spacingAndGlyphs">BIOMASS</text>
<text x="2718" y="1928" textLength="213" lengthAdjust="spacingAndGlyphs">POWER</text>
<text x="2726" y="1995" textLength="196" lengthAdjust="spacingAndGlyphs">PLANT</text>
</g>
<g font-family="'Liberation Sans', Arial, sans-serif" fill="#222" stroke="#222" stroke-width="0.8" font-size="46">
<text x="689" y="1302" textLength="84" lengthAdjust="spacingAndGlyphs" letter-spacing="3">CO</text><text x="777" y="1318" font-size="25" stroke-width="0.4">2</text>
<text x="1042" y="1163" textLength="84" lengthAdjust="spacingAndGlyphs" letter-spacing="3">CO</text><text x="1130" y="1180" font-size="25" stroke-width="0.4">2</text>
<text x="1395" y="1365" textLength="82" lengthAdjust="spacingAndGlyphs" letter-spacing="3">CO</text><text x="1481" y="1383" font-size="25" stroke-width="0.4">2</text>
<text x="1757" y="1162" textLength="82" lengthAdjust="spacingAndGlyphs" letter-spacing="3">CO</text><text x="1843" y="1180" font-size="25" stroke-width="0.4">2</text>
<text x="2107" y="1471" textLength="82" lengthAdjust="spacingAndGlyphs" letter-spacing="3">CO</text><text x="2193" y="1489" font-size="25" stroke-width="0.4">2</text>
<text x="2950" y="967" textLength="78" lengthAdjust="spacingAndGlyphs" letter-spacing="3" fill="#1a1a1a" stroke="#1a1a1a">CO</text><text x="3037" y="987" font-size="25" fill="#1a1a1a" stroke="#1a1a1a" stroke-width="0.4">2</text>
</g>
</svg>
</body></html>
